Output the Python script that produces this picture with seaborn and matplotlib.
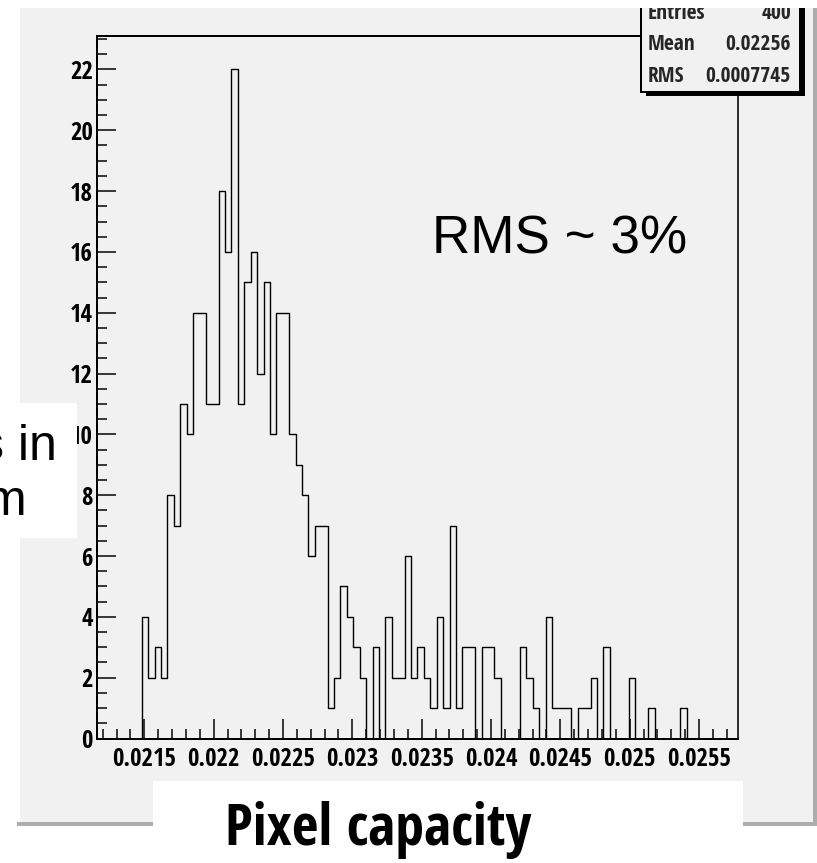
import os
import numpy as np
import pandas as pd
import matplotlib
matplotlib.use("Agg")
import matplotlib.pyplot as plt
from matplotlib.patches import Rectangle
from matplotlib.ticker import MultipleLocator
from matplotlib import font_manager
from matplotlib.font_manager import FontProperties
from matplotlib.textpath import TextPath
import seaborn as sns

# ---- histogram data: 100 equal bins of pixel capacity ----
x_min = 0.021157
x_max = 0.025782
n_bins = 100
counts = (
    [0, 0, 0, 0, 0, 0, 0, 4, 2, 3]          # bins 0-9
    + [2, 8, 7, 11, 10, 14, 14, 11, 11, 18]  # bins 10-19
    + [16, 22, 11, 15, 16, 12, 15, 10, 14, 14]  # bins 20-29
    + [10, 9, 8, 6, 7, 7, 1, 2, 5, 4]        # bins 30-39
    + [3, 2, 0, 3, 0, 4, 2, 2, 6, 2]         # bins 40-49
    + [3, 2, 1, 4, 1, 7, 1, 3, 3, 0]         # bins 50-59
    + [3, 3, 2, 0, 0, 0, 3, 2, 1, 0]         # bins 60-69
    + [4, 1, 1, 1, 0, 1, 1, 2, 0, 3]         # bins 70-79
    + [0, 0, 0, 2, 0, 0, 1, 0, 0, 0]         # bins 80-89
    + [0, 1, 0, 0, 0, 0, 0, 0, 0, 0]         # bins 90-99
)
x_ticks = [0.0215, 0.022, 0.0225, 0.023, 0.0235, 0.024, 0.0245, 0.025, 0.0255]
x_tick_labels = ["0.0215", "0.022", "0.0225", "0.023", "0.0235", "0.024",
                 "0.0245", "0.025", "0.0255"]
y_ticks = [0, 2, 4, 6, 8, 10, 12, 14, 16, 18, 20, 22]
y_tick_labels = [str(v) for v in y_ticks]
stats_names = ["Entries", "Mean", "RMS"]
stats_values = ["400", "0.02256", "0.0007745"]

edges = np.linspace(x_min, x_max, n_bins + 1)
centers = 0.5 * (edges[:-1] + edges[1:])
df = pd.DataFrame({"capacity": centers, "entries": counts})

sns.set_theme(style="white")
plt.rcParams["font.family"] = ["Liberation Sans", "DejaVu Sans"]


# ---- fonts: a narrow bold sans face for axis and box labels ----
BASE_FAMILIES = ["roboto", "noto sans display", "noto sans", "open sans",
                 "liberation sans", "dejavu sans", "lato", "inter", "arial"]
WIDTH_WORDS = {"condensed", "extracondensed", "semicondensed", "ultracondensed",
               "narrow", "extra", "semi", "ultra", "display"}


def _weight(f):
    w = f.weight
    if isinstance(w, str):
        w = font_manager.weight_dict.get(w, 400)
    return int(w)


def _plain_sans(name):
    nm = name.lower()
    for base in BASE_FAMILIES:
        if nm.startswith(base):
            rest = nm[len(base):].split()
            return all(w in WIDTH_WORDS for w in rest)
    return False


def _ink(text, prop):
    bb = TextPath((0, 0), text, size=100, prop=prop).get_extents()
    return bb.width, bb.height


def pick_narrow_bold(sample="0.0215", target_aspect=58.0 / 22.0):
    best = None
    for f in font_manager.fontManager.ttflist:
        fn = os.path.basename(f.fname).lower()
        if not _plain_sans(f.name) or "italic" in fn or "oblique" in fn \
                or f.style != "normal":
            continue
        w = _weight(f)
        if w < 650 or w > 800:
            continue
        try:
            prop = FontProperties(fname=f.fname)
            wd, ht = _ink(sample, prop)
        except Exception:
            continue
        if ht <= 0:
            continue
        key = abs(np.log((wd / ht) / target_aspect)) + (0.0 if w == 700 else 0.05)
        if best is None or key < best[0]:
            best = (key, f.fname)
    if best is not None:
        return FontProperties(fname=best[1])
    return FontProperties(family="Liberation Sans", weight="bold")


NARROW_BOLD = pick_narrow_bold()


def fit_size_px(text, prop, width_px, height_px):
    """Largest pixel size keeping the text within the given width and ink height."""
    wd, ht = _ink(text, prop)
    return min(100.0 * width_px / wd, 100.0 * height_px / ht)


W, H = 817, 863
DPI = 100
PX = 72.0 / DPI  # points per pixel
PANEL = "#f1f1f1"

tick_px = fit_size_px("0.0215", NARROW_BOLD, 62, 22)
stats_px = fit_size_px("0.0007745", NARROW_BOLD, 84, 20)
title_px = fit_size_px("Pixel capacity", NARROW_BOLD, 316, 58)


def sized(prop, px):
    p = prop.copy()
    p.set_size(px * PX)
    return p


fig = plt.figure(figsize=(W / DPI, H / DPI), dpi=DPI, facecolor="white")


def fx(px):
    return px / W


def fy(py):
    return 1.0 - py / H


def fig_rect(x0, y0, x1, y1, **kw):
    r = Rectangle((fx(x0), fy(y1)), fx(x1) - fx(x0), fy(y0) - fy(y1),
                  transform=fig.transFigure, **kw)
    fig.add_artist(r)
    return r


# canvas panel with its drop shadow
fig_rect(17, 822, 817, 826, facecolor="#adadad", edgecolor="none", zorder=0)
fig_rect(813, 8, 817, 826, facecolor="#adadad", edgecolor="none", zorder=0)
fig_rect(20, 8, 813, 822, facecolor=PANEL, edgecolor="none", zorder=0.5)

# ---- histogram frame ----
ax_l, ax_r, ax_t, ax_b = 96.8, 738.1, 36.0, 738.5
ax = fig.add_axes([fx(ax_l), fy(ax_b), fx(ax_r) - fx(ax_l), fy(ax_t) - fy(ax_b)])
ax.set_facecolor(PANEL)
ax.set_zorder(1)

sns.histplot(data=df, x="capacity", weights="entries", bins=list(edges),
             element="step", fill=False, color="black", linewidth=1.0, ax=ax)

ax.set_xlim(x_min, x_max)
ax.set_ylim(0, 23.1)
ax.set_xlabel("")
ax.set_ylabel("")

for side, lw in (("left", 2.0), ("bottom", 2.0), ("top", 2.0), ("right", 1.6)):
    ax.spines[side].set_visible(True)
    ax.spines[side].set_color("black")
    ax.spines[side].set_linewidth(lw * PX)

ax.set_xticks(x_ticks)
ax.set_xticklabels(x_tick_labels)
ax.xaxis.set_minor_locator(MultipleLocator(0.0001))
ax.set_yticks(y_ticks)
ax.set_yticklabels(y_tick_labels)
ax.yaxis.set_minor_locator(MultipleLocator(0.5))

ax.tick_params(axis="both", which="both", direction="in", colors="black",
               bottom=True, left=True, top=False, right=False, width=1.5 * PX)
ax.tick_params(axis="x", which="major", length=20 * PX, pad=8 * PX)
ax.tick_params(axis="x", which="minor", length=10 * PX)
ax.tick_params(axis="y", which="major", length=19 * PX, pad=4 * PX)
ax.tick_params(axis="y", which="minor", length=10 * PX)
for lab in ax.get_xticklabels() + ax.get_yticklabels():
    lab.set_fontproperties(sized(NARROW_BOLD, tick_px))

# annotation inside the frame
fig.text(fx(432), fy(253.5), "RMS ~ 3%", fontsize=53 * PX, color="black",
         ha="left", va="baseline", zorder=5)

# ---- statistics box ----
box_l, box_r, box_t, box_b = 641, 800, -10, 92
fig_rect(box_l + 4.5, box_t + 4.5, box_r + 4.5, box_b + 4.5,
         facecolor="black", edgecolor="none", zorder=6)
fig_rect(box_l, box_t, box_r, box_b, facecolor=PANEL, edgecolor="black",
         linewidth=2.0 * PX, zorder=7)
row_y = [13.5, 45.0, 76.3]
stats_prop = sized(NARROW_BOLD, stats_px)
for name, val, yy in zip(stats_names, stats_values, row_y):
    fig.text(fx(648), fy(yy), name, fontproperties=stats_prop,
             ha="left", va="center", zorder=8)
    fig.text(fx(791), fy(yy), val, fontproperties=stats_prop,
             ha="right", va="center", zorder=8)

# white slide areas overlapping the canvas
fig_rect(0, 0, W, 8, facecolor="white", edgecolor="none", zorder=20)
fig_rect(0, 403, 77, 538, facecolor="white", edgecolor="none", zorder=20)
fig_rect(153, 781, 743, H, facecolor="white", edgecolor="none", zorder=20)

fig.text(fx(57), fy(460), "s in", fontsize=50 * PX, color="black",
         ha="right", va="baseline", zorder=21)
fig.text(fx(26), fy(515), "m", fontsize=50 * PX, color="black",
         ha="right", va="baseline", zorder=21)
fig.text(fx(378), fy(845), "Pixel capacity",
         fontproperties=sized(NARROW_BOLD, title_px), color="black",
         ha="center", va="baseline", zorder=21)

fig.savefig("out.png", dpi=DPI, facecolor="white")
